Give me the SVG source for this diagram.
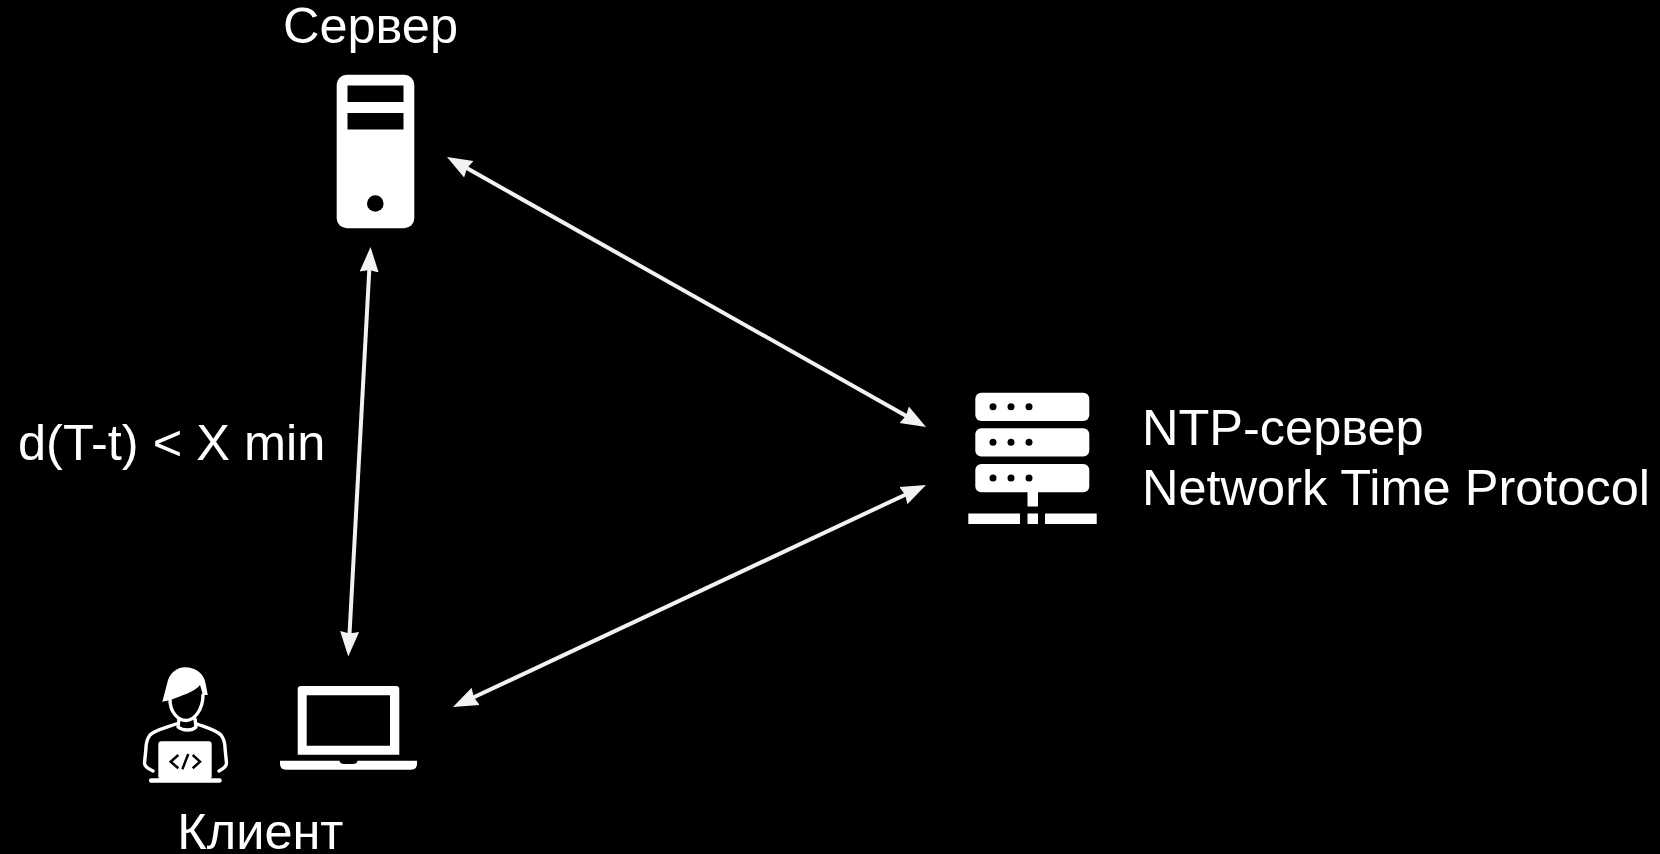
<svg xmlns="http://www.w3.org/2000/svg" width="1660" height="854" viewBox="0 0 1660 854">
<style>
text{font-family:"Liberation Sans",Arial,sans-serif;font-size:50.5px;fill:#fff}
.c{stroke:#f2f2f2;stroke-width:4;fill:none;marker-start:url(#a);marker-end:url(#a)}
.w{fill:#fff}.k{fill:#000}
.s{stroke:#fff;stroke-width:3.400;fill:none;stroke-linecap:round;stroke-linejoin:round}
</style>
<defs><marker id="a" markerUnits="userSpaceOnUse" markerWidth="26" markerHeight="20" refX="8" refY="9.500" orient="auto-start-reverse" viewBox="0 0 26 19"><path d="M0 0L25 9.500L0 19L2 9.500Z" fill="#f2f2f2"/></marker></defs>
<rect width="1660" height="854" fill="#000"/>
<g id="connectors">
<path class="c" d="M461.800 165.350L911.200 418.650"/>
<path class="c" d="M369.600 264L349.200 639.500"/>
<path class="c" d="M910.600 492.200L468.400 699.800"/>
</g>
<g id="server">
<text x="370.500" y="43" text-anchor="middle">Сервер</text>
<rect class="w" x="336.700" y="74.700" width="77.600" height="153.600" rx="10"/>
<rect class="k" x="347.500" y="85.500" width="56" height="16.500"/>
<rect class="k" x="347.500" y="113" width="56" height="16.500"/>
<circle class="k" cx="375.300" cy="203.500" r="8.300"/>
</g>
<g id="ntp">
<rect class="w" x="975.300" y="392.700" width="114" height="28.300" rx="6"/>
<rect class="w" x="975.300" y="428.300" width="114" height="28.300" rx="6"/>
<rect class="w" x="975.300" y="464" width="114" height="28.300" rx="6"/>
<g class="k"><circle cx="993" cy="406.700" r="3.500"/><circle cx="1011" cy="406.700" r="3.500"/><circle cx="1029" cy="406.700" r="3.500"/>
<circle cx="993" cy="442.300" r="3.500"/><circle cx="1011" cy="442.300" r="3.500"/><circle cx="1029" cy="442.300" r="3.500"/>
<circle cx="993" cy="478" r="3.500"/><circle cx="1011" cy="478" r="3.500"/><circle cx="1029" cy="478" r="3.500"/></g>
<rect class="w" x="1027.500" y="492" width="10.500" height="14.500"/>
<rect class="w" x="968.300" y="513.500" width="51.700" height="10.500"/>
<rect class="w" x="1027.500" y="513.500" width="10.500" height="10.500"/>
<rect class="w" x="1045" y="513.500" width="51.700" height="10.500"/>
<text x="1142" y="445">NTP-сервер</text>
<text x="1142" y="505">Network Time Protocol</text>
</g>
<g id="client">
<path class="w" fill-rule="evenodd" d="M301 686H396Q399.300 686 399.300 689.300V754.700H297.700V689.300Q297.700 686 301 686ZM306.700 695.300V745.700H390V695.300Z"/>
<path class="w" d="M280 760.700H339.500Q340 764 344 764H353Q357 764 357.500 760.700H417V764Q417 769.700 411 769.700H286Q280 769.700 280 764Z"/>
<path class="w" d="M162.300 701.700L167 684C169 673 177 667.300 185 667.300C196 667.300 204 674 205.500 683L207.800 695L203 695L200 685C195 692 180 696 170.700 700Z"/>
<path class="s" d="M170 700C170 712 178 720.500 186 720.500C194 720.500 203 710 203 695"/>
<path class="s" d="M179 719L178 727C183 731 192 731 196 727L195 719"/>
<path class="s" d="M176 724C165 728 155 730 150 735C147 739 146 742 146 748L144.500 763C144.500 766 146 768 153 771"/>
<path class="s" d="M197 724C208 728 216 730 221 735C224 739 225 742 225 748L226.500 763C226.500 766 225 768 219 771"/>
<rect class="w" x="158.300" y="741.300" width="53.400" height="38" rx="3"/>
<rect class="w" x="149" y="778.300" width="72.700" height="4.500" rx="2"/>
<path d="M178.300 755L170.700 761.700L178.300 768.300M192.700 755L200 761.700L192.700 768.300M188.300 754L182.300 769.300" stroke="#000" stroke-width="2.500" fill="none"/>
<text x="260.400" y="849" text-anchor="middle">Клиент</text>
</g>
<text id="label" x="18" y="460">d(T-t) &lt; X min</text>
</svg>
